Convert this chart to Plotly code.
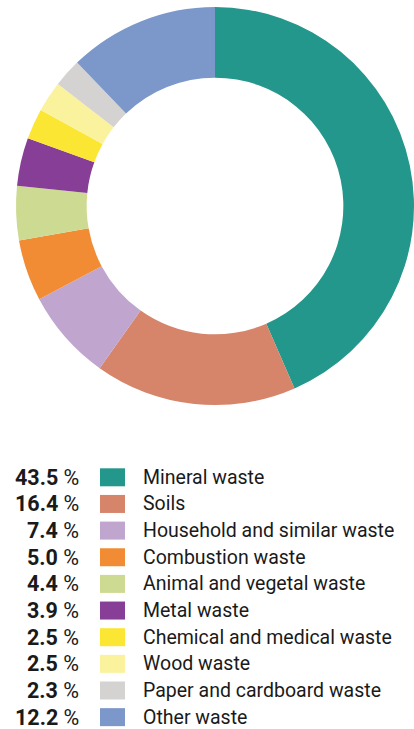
import plotly.graph_objects as go

categories = ["Mineral waste", "Soils", "Household and similar waste", "Combustion waste",
              "Animal and vegetal waste", "Metal waste", "Chemical and medical waste",
              "Wood waste", "Paper and cardboard waste", "Other waste"]
values = [43.5, 16.4, 7.4, 5.0, 4.4, 3.9, 2.5, 2.5, 2.3, 12.2]
colors = ["#23978B", "#D6846A", "#C0A5CF", "#F18C35", "#CDDA91",
          "#873E96", "#FCE634", "#FBF29D", "#D4D3D2", "#7C97C9"]

W, H = 414, 729
FONT = "Roboto"

fig = go.Figure(go.Pie(
    labels=categories, values=values, sort=False, direction="clockwise", rotation=0,
    hole=0.645, marker=dict(colors=colors, line=dict(width=0)),
    textinfo="none", hoverinfo="label+percent", showlegend=False,
    domain=dict(x=[16 / W, 414 / W], y=[1 - 405 / H, 1 - 7 / H]),
))

shapes = []
annotations = []
row0, step = 477.3, 26.65
for i, (cat, val, col) in enumerate(zip(categories, values, colors)):
    yc = row0 + i * step
    shapes.append(dict(type="rect", xref="paper", yref="paper",
                       x0=100 / W, x1=125 / W, y0=1 - (yc + 9) / H, y1=1 - (yc - 9) / H,
                       fillcolor=col, line=dict(width=0)))
    annotations.append(dict(xref="paper", yref="paper", x=81 / W, y=1 - yc / H,
                            xanchor="right", yanchor="middle", showarrow=False,
                            text=f"<b>{val:.1f}</b> %",
                            font=dict(family=FONT, size=21.5, color="#1a1a1a")))
    annotations.append(dict(xref="paper", yref="paper", x=141 / W, y=1 - yc / H,
                            xanchor="left", yanchor="middle", showarrow=False,
                            text=cat, font=dict(family=FONT, size=19.5, color="#1a1a1a")))

fig.update_layout(width=W, height=H, margin=dict(l=0, r=0, t=0, b=0),
                  paper_bgcolor="white", plot_bgcolor="white",
                  shapes=shapes, annotations=annotations)
fig.write_html("out.html", config={"displayModeBar": False},
               post_script="document.body.style.margin='0';document.body.style.overflow='hidden';")
